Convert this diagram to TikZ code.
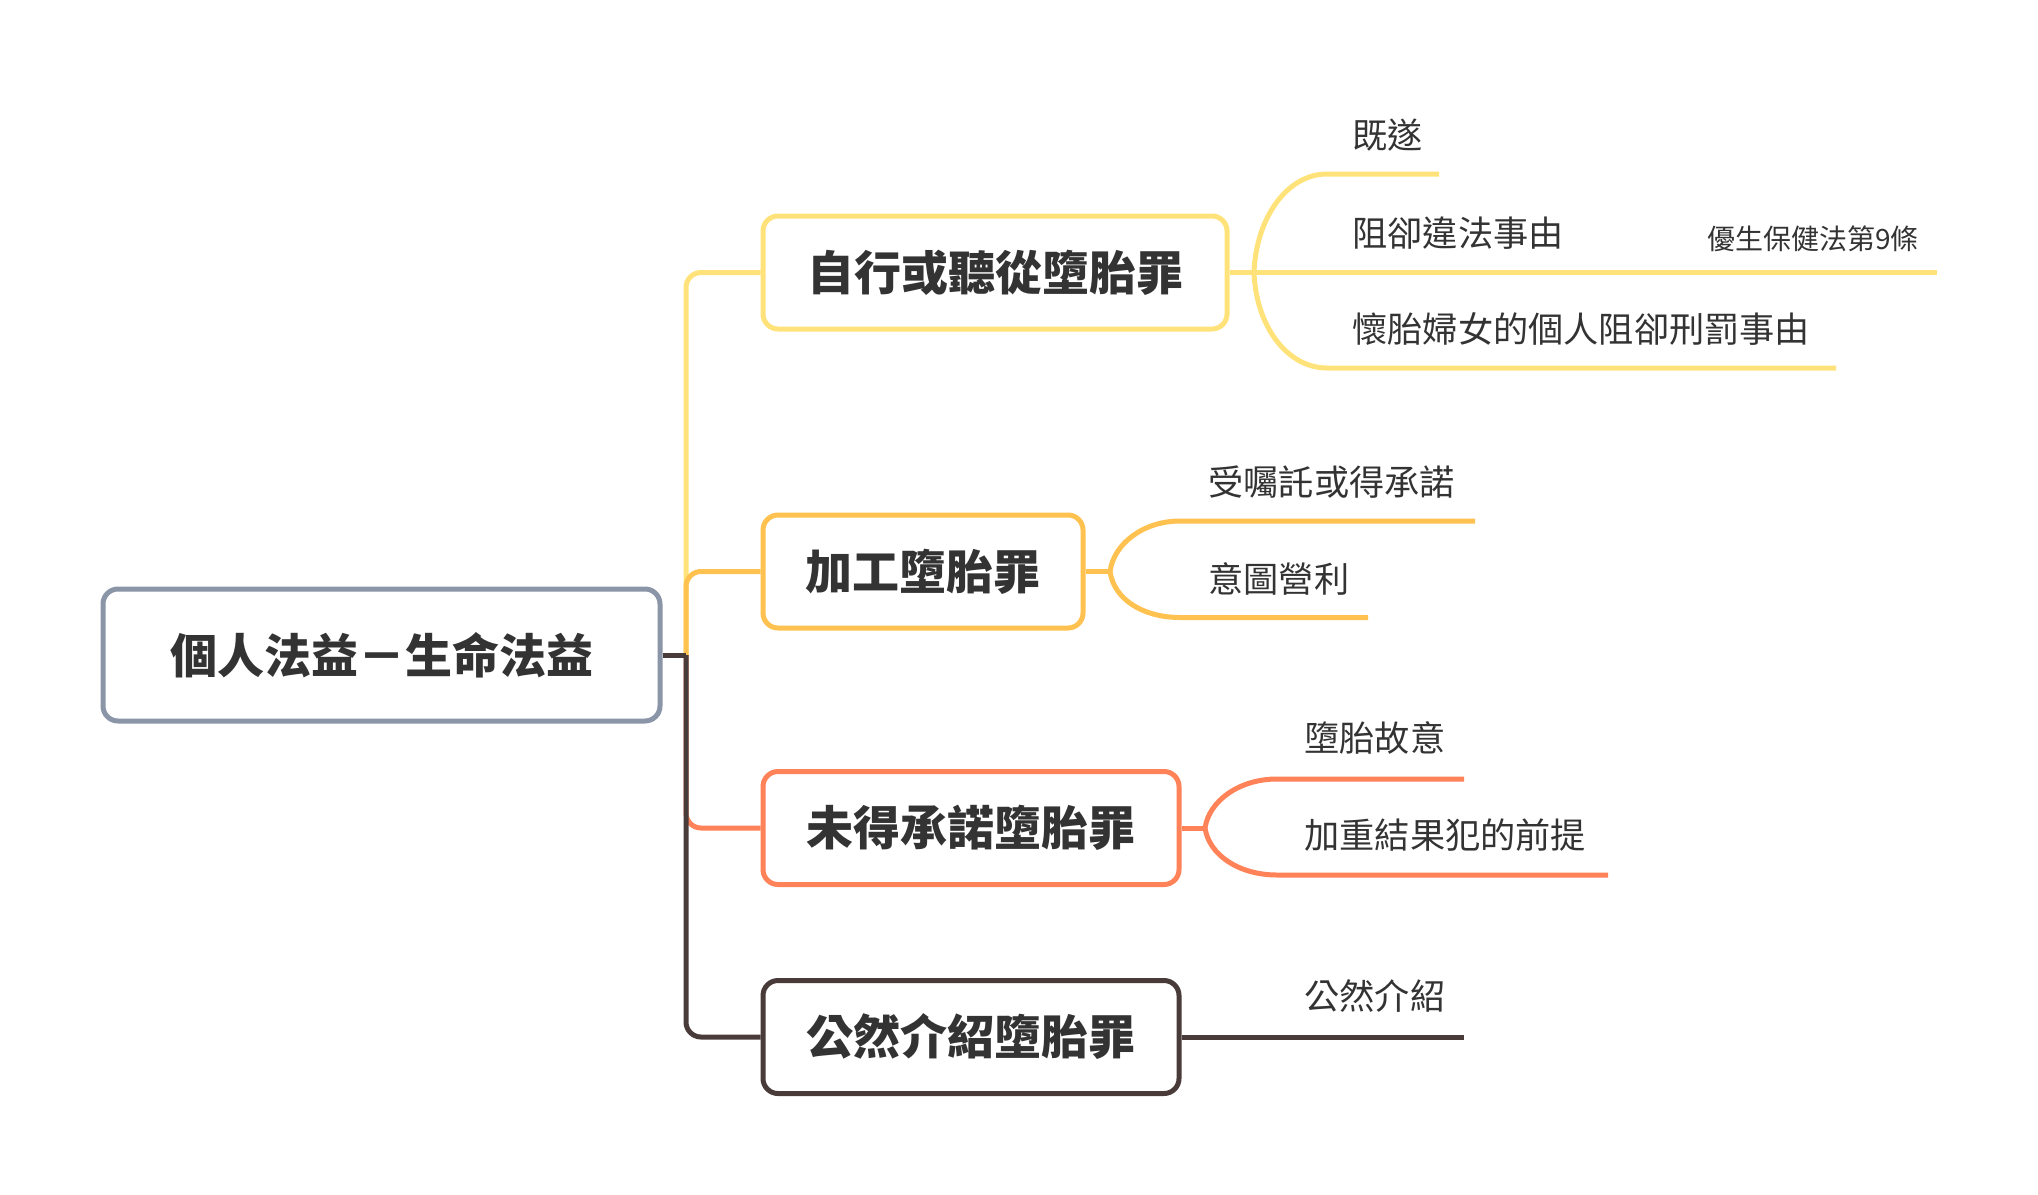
\documentclass[tikz,border=0pt]{standalone}
\usepackage{fontspec}
\newfontfamily\cjk{Noto Sans CJK TC}
\definecolor{cone}{HTML}{FFE37A}
\definecolor{ctwo}{HTML}{FFC250}
\definecolor{cthree}{HTML}{FF8258}
\definecolor{cfour}{HTML}{4A3B3B}
\definecolor{rootc}{HTML}{8A95A8}
\definecolor{txt}{HTML}{333333}
\begin{document}
\begin{tikzpicture}[x=0.5pt,y=-0.5pt,
  box/.style={draw, rounded corners=7.5pt, line width=2.5pt, fill=white,
    minimum height=56.5pt, text=txt, inner sep=0pt,
    font=\cjk\bfseries\fontsize{23.5}{28}\selectfont},
  lbl/.style={anchor=west, inner sep=0pt, text=txt,
    font=\cjk\fontsize{17.6}{21}\selectfont},
  small/.style={anchor=west, inner sep=0pt, text=txt,
    font=\cjk\fontsize{14}{17}\selectfont},
  conn/.style={line width=2.5pt}]
\useasboundingbox (0,0) rectangle (2038,1194);

% trunk junction
\coordinate (j) at (686,655);

% boxes
\node[box, draw=rootc, minimum width=278.5pt, minimum height=66pt] (root) at (381.5,655) {個人法益－生命法益};
\node[box, draw=cone, minimum width=232pt] (b1) at (995,272.5) {自行或聽從墮胎罪};
\node[box, draw=ctwo, minimum width=160pt] (b2) at (923,571.5) {加工墮胎罪};
\node[box, draw=cthree, minimum width=208pt] (b3) at (971,828) {未得承諾墮胎罪};
\node[box, draw=cfour, minimum width=208pt] (b4) at (971,1037) {公然介紹墮胎罪};

% trunk branches
\draw[conn, cone, rounded corners=7.5pt] (j) |- (b1.west);
\draw[conn, ctwo, rounded corners=7.5pt] (j) |- (b2.west);
\draw[conn, cthree, rounded corners=7.5pt] (j) |- (b3.west);
\draw[conn, cfour, rounded corners=7.5pt] (j) |- (b4.west);
\draw[conn, cfour] (root.east) -- (j);

% branch 1
\coordinate (f1) at (1254,272.5);
\coordinate (t1) at (1439,174);
\coordinate (m1) at (1937,272.5);
\coordinate (d1) at (1836,368);
\draw[conn, cone] (b1.east) -- (f1);
\draw[conn, cone] (f1) .. controls (1256,218) and (1287,174) .. (1327,174) -- (t1);
\draw[conn, cone] (f1) -- (m1);
\draw[conn, cone] (f1) .. controls (1256,326) and (1287,368) .. (1327,368) -- (d1);
\node[lbl] (l11) at (1352,135) {既遂};
\node[lbl] (l12) at (1352,233) {阻卻違法事由};
\node[small] (l121) at (1707,239) {優生保健法第9條};
\node[lbl] (l13) at (1352,329) {懷胎婦女的個人阻卻刑罰事由};

% branch 2
\coordinate (f2) at (1110,571.5);
\coordinate (t2) at (1475,521);
\coordinate (d2) at (1368,617.5);
\draw[conn, ctwo] (b2.east) -- (f2);
\draw[conn, ctwo] (f2) .. controls (1114,543) and (1144,521) .. (1180,521) -- (t2);
\draw[conn, ctwo] (f2) .. controls (1114,600) and (1144,617.5) .. (1180,617.5) -- (d2);
\node[lbl] (l21) at (1208,482) {受囑託或得承諾};
\node[lbl] (l22) at (1208,578.5) {意圖營利};

% branch 3
\coordinate (f3) at (1205,828);
\coordinate (t3) at (1464,779);
\coordinate (d3) at (1608,875);
\draw[conn, cthree] (b3.east) -- (f3);
\draw[conn, cthree] (f3) .. controls (1209,801) and (1239,779) .. (1277,779) -- (t3);
\draw[conn, cthree] (f3) .. controls (1209,855) and (1239,875) .. (1277,875) -- (d3);
\node[lbl] (l31) at (1304,738) {墮胎故意};
\node[lbl] (l32) at (1304,835) {加重結果犯的前提};

% branch 4
\coordinate (t4) at (1464,1037);
\draw[conn, cfour] (b4.east) -- (t4);
\node[lbl] (l41) at (1304,996) {公然介紹};
\end{tikzpicture}
\end{document}
